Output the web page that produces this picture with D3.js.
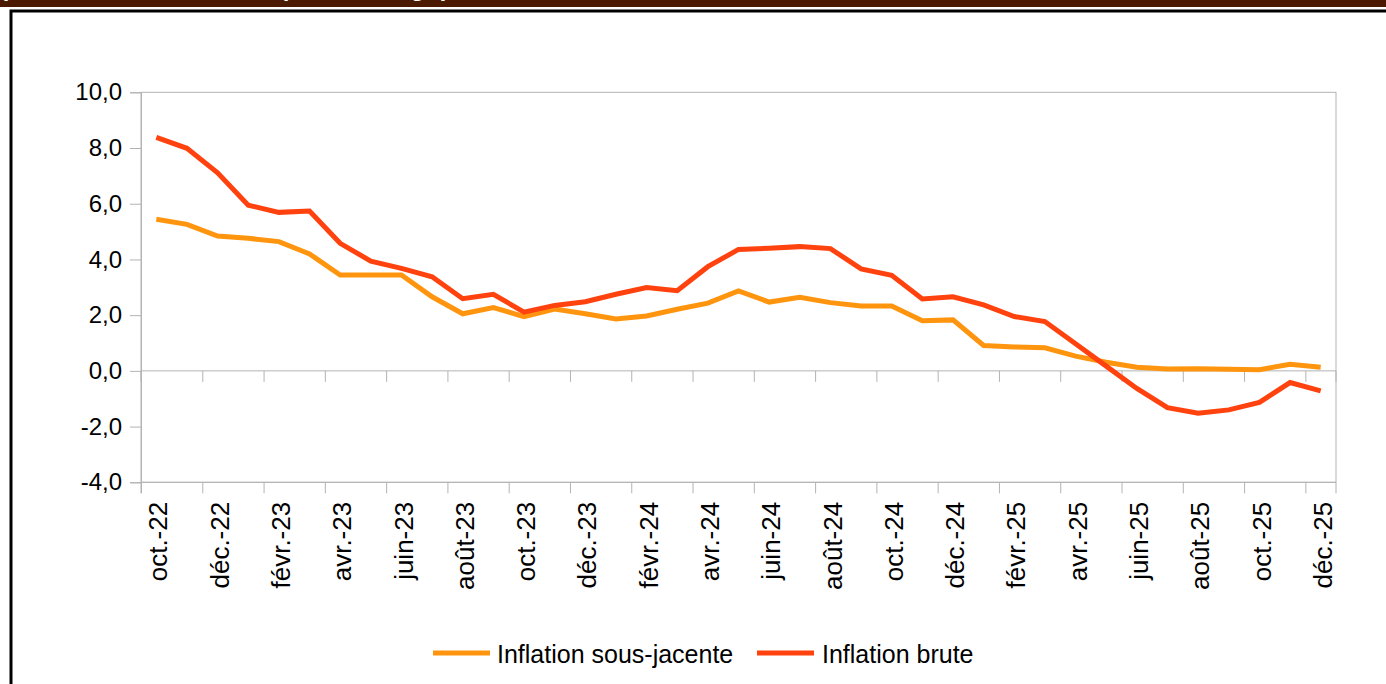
<!DOCTYPE html>
<html>
<head>
<meta charset="utf-8">
<script src="https://cdn.jsdelivr.net/npm/d3@7"></script>
<style>
  body { margin: 0; background: #fff; }
  svg { display: block; font-family: "Liberation Sans", Arial, sans-serif; }
</style>
</head>
<body>
<script>
// monthly categories, oct. 2022 -> déc. 2025
const months = [
  "oct.-22", "nov.-22", "déc.-22",
  "janv.-23", "févr.-23", "mars-23", "avr.-23", "mai-23", "juin-23",
  "juil.-23", "août-23", "sept.-23", "oct.-23", "nov.-23", "déc.-23",
  "janv.-24", "févr.-24", "mars-24", "avr.-24", "mai-24", "juin-24",
  "juil.-24", "août-24", "sept.-24", "oct.-24", "nov.-24", "déc.-24",
  "janv.-25", "févr.-25", "mars-25", "avr.-25", "mai-25", "juin-25",
  "juil.-25", "août-25", "sept.-25", "oct.-25", "nov.-25", "déc.-25",
]

const inflationSousJacente = [
  5.44, 5.26, 4.84, 4.76, 4.64, 4.20, 3.44, 3.44, 3.44, 2.66,
  2.05, 2.27, 1.95, 2.22, 2.05, 1.86, 1.97, 2.21, 2.43, 2.87,
  2.47, 2.64, 2.45, 2.33, 2.33, 1.80, 1.83, 0.91, 0.86, 0.83,
  0.53, 0.31, 0.13, 0.07, 0.08, 0.06, 0.04, 0.24, 0.13,
]

const inflationBrute = [
  8.38, 7.99, 7.11, 5.95, 5.69, 5.74, 4.58, 3.94, 3.68, 3.38,
  2.59, 2.75, 2.11, 2.35, 2.48, 2.75, 2.99, 2.88, 3.74, 4.36,
  4.40, 4.46, 4.39, 3.66, 3.43, 2.58, 2.66, 2.37, 1.95, 1.77,
  0.97, 0.17, -0.63, -1.32, -1.52, -1.40, -1.13, -0.42, -0.72,
]

const yTicks = [-4, -2, 0, 2, 4, 6, 8, 10]

const series = [
  { name: "Inflation sous-jacente", values: inflationSousJacente, color: "#ff950e" },
  { name: "Inflation brute", values: inflationBrute, color: "#ff420e" },
]

function drawChart() {
  let dimensions = {
    width: 1386,
    height: 684,
    margin: {
      top: 92.3,
      right: 50,
      bottom: 201.7,
      left: 141,
    },
  }
  dimensions.boundedWidth = dimensions.width - dimensions.margin.left - dimensions.margin.right
  dimensions.boundedHeight = dimensions.height - dimensions.margin.top - dimensions.margin.bottom

  const axisColor = "#b3b3b3"
  // french decimal comma, plain hyphen for negatives
  const frFormat = d3.formatLocale({ decimal: ",", thousands: " ", grouping: [3], currency: ["", " €"], minus: "-" })
    .format(".1f")

  const wrapper = d3.select("body")
    .append("svg")
      .attr("width", dimensions.width)
      .attr("height", dimensions.height)

  // header strip: only the descenders of its title are visible
  wrapper.append("rect")
      .attr("x", 0).attr("y", 0)
      .attr("width", dimensions.width).attr("height", 7)
      .attr("fill", "#4a1900")

  wrapper.append("text")
      .attr("x", 0)
      .attr("y", -4)
      .attr("textLength", 449)
      .attr("fill", "#fff")
      .style("font-weight", "bold")
      .style("font-size", "24px")
      .text("(variation annuelle en pourcentage)")

  wrapper.append("rect")
      .attr("x", 11)
      .attr("y", 11)
      .attr("width", 1420)
      .attr("height", 720)
      .attr("fill", "none")
      .attr("stroke", "#000")
      .attr("stroke-width", 3)

  const bounds = wrapper.append("g")
    .style("transform", `translate(${dimensions.margin.left}px, ${dimensions.margin.top}px)`)

  // scales
  const xScale = d3.scaleBand()
    .domain(months)
    .range([0, dimensions.boundedWidth])
    .padding(0)

  const yScale = d3.scaleLinear()
    .domain([-4, 10])
    .range([dimensions.boundedHeight, 0])

  const xCenter = d => xScale(d) + xScale.bandwidth() / 2

  // plot frame
  bounds.append("rect")
      .attr("x", 0).attr("y", 0)
      .attr("width", dimensions.boundedWidth)
      .attr("height", dimensions.boundedHeight)
      .attr("fill", "none")
      .attr("stroke", axisColor)
      .attr("stroke-width", 1)

  // y axis
  const yAxisGenerator = d3.axisLeft()
    .scale(yScale)
    .tickValues(yTicks)
    .tickFormat(frFormat)
    .tickSizeOuter(0)
    .tickSize(11)
    .tickPadding(8)

  const yAxis = bounds.append("g")
      .call(yAxisGenerator)
  yAxis.select(".domain").attr("stroke", axisColor)
  yAxis.selectAll(".tick line").attr("stroke", axisColor)
  yAxis.selectAll(".tick text")
      .attr("fill", "#000")
      .style("font-size", "24px")
      .style("font-family", "Liberation Sans, Arial, sans-serif")

  // x axis: ticks every two months on band boundaries
  const boundaryTicks = months.filter((d, i) => i % 2 === 0)
  const xTickGenerator = d3.axisBottom()
    .scale(xScale)
    .tickValues(boundaryTicks)
    .tickSizeOuter(0)
    .tickSize(11)
    .tickFormat("")
    .offset(0)

  const tickPos = g => g.selectAll(".tick")
      .attr("transform", d => `translate(${xScale(d) + 0.5},0)`)

  const zeroAxis = bounds.append("g")
      .style("transform", `translateY(${yScale(0)}px)`)
      .call(xTickGenerator)
      .call(tickPos)
  zeroAxis.select(".domain").attr("stroke", axisColor)
  zeroAxis.selectAll(".tick line").attr("stroke", axisColor)

  const bottomAxis = bounds.append("g")
      .style("transform", `translateY(${dimensions.boundedHeight}px)`)
      .call(xTickGenerator)
      .call(tickPos)
  bottomAxis.select(".domain").attr("stroke", axisColor)
  bottomAxis.selectAll(".tick line").attr("stroke", axisColor)

  // rotated month labels
  bounds.append("g")
    .selectAll("text")
    .data(boundaryTicks)
    .join("text")
      .attr("transform", d => `translate(${xCenter(d) + 2}, ${dimensions.boundedHeight + 19.5}) rotate(-90)`)
      .attr("text-anchor", "end")
      .attr("dy", "0.35em")
      .attr("fill", "#000")
      .style("font-size", "26px")
      .text(d => d)

  // lines
  const lineGenerator = d3.line()
    .x((d, i) => xCenter(months[i]))
    .y(d => yScale(d))

  bounds.selectAll(".series")
    .data(series)
    .join("path")
      .attr("class", "series")
      .attr("d", d => lineGenerator(d.values))
      .attr("fill", "none")
      .attr("stroke", d => d.color)
      .attr("stroke-width", 5)
      .attr("stroke-linejoin", "miter")

  // legend
  const legendItems = [
    { x: 433, textX: 497 },
    { x: 757, textX: 822 },
  ]
  const legend = wrapper.append("g")
    .selectAll("g")
    .data(series)
    .join("g")

  legend.append("line")
      .attr("x1", (d, i) => legendItems[i].x)
      .attr("x2", (d, i) => legendItems[i].x + 57)
      .attr("y1", 653)
      .attr("y2", 653)
      .attr("stroke", d => d.color)
      .attr("stroke-width", 5)

  legend.append("text")
      .attr("x", (d, i) => legendItems[i].textX)
      .attr("y", 654)
      .attr("dy", "0.35em")
      .attr("fill", "#000")
      .style("font-size", "25px")
      .text(d => d.name)
}
drawChart()
</script>
</body>
</html>
